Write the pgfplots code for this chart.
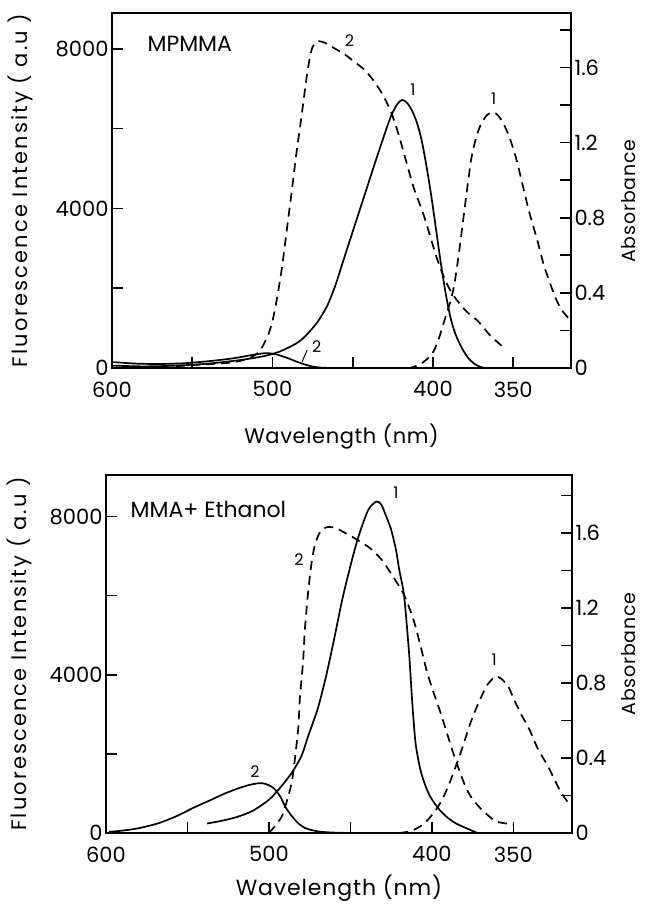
\documentclass[border=0pt]{standalone}
\usepackage{pgfplots}
\pgfplotsset{compat=1.18}
\usepackage{pgfplotstable}
\usepackage{fontspec}
\setmainfont{Poppins}

% ---------- top panel (MPMMA) ----------
\pgfplotstableread{
lam val
600 60
580 40
560 60
540 110
520 200
505 300
495 420
485 620
479 820
472 1150
466 1550
461 2050
455 2800
450 3420
445 4040
440 4660
435 5280
430 5880
426 6330
422 6630
419 6720
416 6640
413 6450
410 6150
407 5700
404 5050
401 4300
398 3450
395 2600
392 1850
389 1250
386 850
382 500
378 250
374 100
370 20
367 0
}\topFa
\pgfplotstableread{
lam val
600 150
585 110
570 100
555 120
540 170
525 240
512 330
505 370
500 360
495 310
490 240
485 160
480 90
475 35
470 10
462 0
450 0
}\topFb
\pgfplotstableread{
lam val
560 0.01
540 0.02
525 0.03
515 0.05
508 0.09
503 0.17
500 0.25
497 0.38
494 0.54
491 0.74
488 0.94
485 1.15
483 1.27
481 1.40
479 1.53
477 1.64
475 1.71
472 1.74
467 1.73
461 1.70
455 1.67
449 1.63
443 1.59
437 1.53
431 1.45
426 1.36
422 1.26
417 1.11
412 0.96
406 0.82
401 0.68
397 0.57
393 0.48
389 0.41
385 0.36
379 0.30
372 0.25
364 0.17
356 0.11
}\topAb
\pgfplotstableread{
lam val
425 0
415 0.0
408 0.02
401 0.07
397 0.14
393 0.25
390 0.33
387 0.43
384 0.60
381 0.80
378 1.00
376 1.12
373 1.23
370 1.30
366 1.35
362 1.36
359 1.34
356 1.30
352 1.22
348 1.11
344 0.97
340 0.83
335 0.68
331 0.55
327 0.45
323 0.36
319 0.30
314 0.25
}\topAa

% ---------- bottom panel (MMA+Ethanol) ----------
\pgfplotstableread{
lam val
538 240
530 300
520 400
510 560
500 840
493 1150
486 1520
480 1950
476 2440
470 3150
465 3950
460 4900
455 5900
450 6750
445 7500
439 8170
434 8380
431 8300
428 8000
425 7670
422 7150
420 6650
417 5980
414 4550
412 3280
410 2270
407 1590
404 1200
401 920
396 620
391 410
386 260
381 160
376 70
372 0
}\botFa
\pgfplotstableread{
lam val
598 30
590 60
580 120
568 245
557 420
547 625
537 810
527 1000
518 1140
512 1215
506 1260
502 1240
497 1130
493 920
490 665
486 430
482 245
478 130
474 75
468 30
460 10
450 0
}\botFb
\pgfplotstableread{
lam val
500 0.00
496 0.04
492 0.09
489 0.17
486 0.27
484 0.40
482 0.56
481 0.72
479 0.92
478 1.08
476 1.28
474 1.43
472 1.53
469 1.60
465 1.63
460 1.63
453 1.60
445 1.56
438 1.52
431 1.46
424 1.37
417 1.27
411 1.13
407 1.00
403 0.86
399 0.75
395 0.65
391 0.54
387 0.43
383 0.33
379 0.24
375 0.18
370 0.13
365 0.09
360 0.06
350 0.045
}\botAb
\pgfplotstableread{
lam val
420 0
413 0.01
407 0.036
402 0.075
397 0.13
393 0.19
389 0.27
386 0.34
383 0.41
380 0.49
377 0.57
374 0.64
370 0.72
366 0.79
361 0.835
357 0.82
353 0.78
350 0.72
345 0.63
340 0.55
335 0.45
329 0.36
325 0.29
321 0.22
317 0.17
314 0.14
}\botAa

\pgfplotsset{
  base/.style={
    scale only axis, x dir=reverse, xmin=314, xmax=600, ymin=0,
    tick align=inside, major tick length=11pt,
    every tick/.style={line width=1.6pt, black},
    axis line style={line width=2pt},
    tick label style={font=\fontsize{21}{23}\selectfont},
    label style={font=\fontsize{21}{23}\selectfont},
  },
  fl/.style={black, line width=1.7pt, smooth, tension=0.45, no marks},
  ab/.style={black, line width=1.7pt, smooth, tension=0.45, no marks, dash pattern=on 9pt off 6pt},
}
\tikzset{ann/.style={font=\fontsize{16}{17}\selectfont, inner sep=1pt}}

\begin{document}
\begin{tikzpicture}
\path[use as bounding box] (0,0) rectangle (645pt,906pt);

% ===== top panel: fluorescence axis =====
\begin{axis}[base, at={(112pt,538pt)}, anchor=south west, width=459pt, height=355pt,
  ymax=8900, xtick pos=left, ytick pos=left,
  xtick={350,400,450,500,550,600}, xticklabels={350,400,,500,,600},
  ytick={0,2000,4000,6000,8000}, yticklabels={0,,4000,,8000},
  xticklabel style={yshift=-10pt},
  xlabel={Wavelength (nm)},
  xlabel style={at={(axis description cs:0.5,-0.194)}, anchor=center, font=\fontsize{21}{23}\selectfont\addfontfeature{LetterSpace=3}},
  ylabel={Fluorescence Intensity ( a.u )},
  ylabel style={at={(axis description cs:-0.200,0.5)}, anchor=center, font=\fontsize{21}{23}\selectfont\addfontfeature{LetterSpace=10}},
]
\addplot[fl] table[x=lam,y=val] {\topFa};
\addplot[fl] table[x=lam,y=val] {\topFb};
\node[anchor=west, font=\fontsize{22}{24}\selectfont] at (axis cs:580,8130) {MPMMA};
\node[ann] at (axis cs:452,8200) {2};
\node[ann] at (axis cs:412.5,6970) {1};
\node[ann] at (axis cs:362.2,6760) {1};
\node[ann] at (axis cs:472.5,540) {2};
\draw[line width=1pt] (axis cs:481.5,160) -- (axis cs:478.4,450);
\end{axis}
% ===== top panel: absorbance axis =====
\begin{axis}[base, at={(112pt,538pt)}, anchor=south west, width=459pt, height=355pt,
  ymax=1.89, axis x line=none, axis y line*=right,
  ytick={0,0.2,0.4,0.6,0.8,1.0,1.2,1.4,1.6,1.8},
  yticklabels={0,,0.4,,0.8,,1.2,,1.6,},
  ylabel={Absorbance},
  ylabel style={at={(axis description cs:1.126,0.47)}, anchor=center, font=\fontsize{19}{21}\selectfont\addfontfeature{LetterSpace=4}},
]
\addplot[ab] table[x=lam,y=val] {\topAb};
\addplot[ab] table[x=lam,y=val] {\topAa};
\end{axis}

% ===== bottom panel: fluorescence axis =====
\begin{axis}[base, at={(106pt,73pt)}, anchor=south west, width=466pt, height=358pt,
  ymax=9050, xtick pos=left, ytick pos=left,
  xtick={350,400,450,500,550,600}, xticklabels={350,400,,500,,600},
  ytick={0,2000,4000,6000,8000}, yticklabels={0,,4000,,8000},
  xticklabel style={yshift=-10pt},
  xlabel={Wavelength (nm)},
  xlabel style={at={(axis description cs:0.5,-0.155)}, anchor=center, font=\fontsize{22}{24}\selectfont\addfontfeature{LetterSpace=4}},
  ylabel={Fluorescence Intensity ( a.u )},
  ylabel style={at={(axis description cs:-0.185,0.5)}, anchor=center, font=\fontsize{21}{23}\selectfont\addfontfeature{LetterSpace=10}},
]
\addplot[fl] table[x=lam,y=val] {\botFa};
\addplot[fl] table[x=lam,y=val] {\botFb};
\node[anchor=west, font=\fontsize{22}{24}\selectfont] at (axis cs:587,8170) {MMA+ Ethanol};
\node[ann] at (axis cs:422,8590) {1};
\node[ann] at (axis cs:481.5,6900) {2};
\node[ann] at (axis cs:508.5,1560) {2};
\node[ann] at (axis cs:361.7,4380) {1};
\end{axis}
% ===== bottom panel: absorbance axis =====
\begin{axis}[base, at={(106pt,73pt)}, anchor=south west, width=466pt, height=358pt,
  ymax=1.91, axis x line=none, axis y line*=right,
  ytick={0,0.2,0.4,0.6,0.8,1.0,1.2,1.4,1.6,1.8},
  yticklabels={0,,0.4,,0.8,,1.2,,1.6,},
  ylabel={Absorbance},
  ylabel style={at={(axis description cs:1.122,0.5)}, anchor=center, font=\fontsize{19}{21}\selectfont\addfontfeature{LetterSpace=4}},
]
\addplot[ab] table[x=lam,y=val] {\botAb};
\addplot[ab] table[x=lam,y=val] {\botAa};
\end{axis}
\end{tikzpicture}
\end{document}
